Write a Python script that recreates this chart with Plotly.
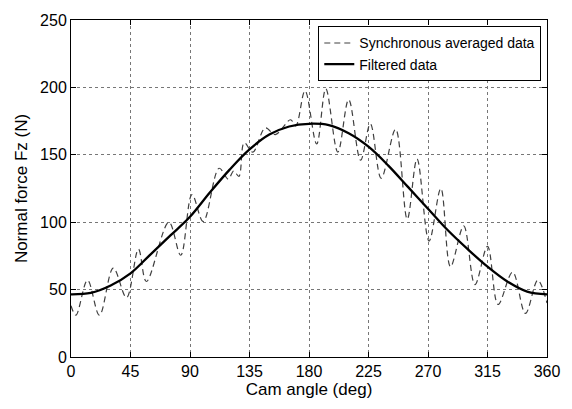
import plotly.graph_objects as go

# Synchronous averaged data (extrema)
sync_angle = [0, 3.7, 12.5, 21.5, 32, 42, 51, 57, 74, 83, 91.5, 100, 112, 119, 123, 127,
              131, 137.5, 147, 154.5, 166, 170, 177, 185.8, 192.7, 201.8, 210, 219,
              226.4, 234.6, 245.5, 254.3, 261.7, 270.8, 279.7, 287, 297, 305.5, 315,
              323, 334, 343.7, 353, 360]
sync_force = [38, 31, 57, 31, 66, 44, 80, 56, 100, 75.5, 120.5, 100.5, 140, 132, 138, 134,
              159, 152, 170, 165, 176, 171.5, 197.5, 158, 199, 152, 191, 146,
              173, 132.6, 169, 102.3, 147, 86, 125, 67, 97.2, 53.7, 82,
              39, 63, 32.3, 57, 40]

# Filtered data
filt_angle = [0, 15, 30, 45, 60, 75, 90, 105, 120, 135, 150, 165, 180, 195, 210, 225,
              240, 255, 270, 285, 300, 315, 330, 345, 360]
filt_force = [46.5, 47.5, 53, 62, 76, 90, 104, 122, 139, 154, 165, 171, 173, 172, 166, 156,
              142, 126, 110, 94, 80, 67, 56, 48.5, 46.5]

x_ticks = [0, 45, 90, 135, 180, 225, 270, 315, 360]
y_ticks = [0, 50, 100, 150, 200, 250]

font_family = "Liberation Sans, Arial, sans-serif"

fig = go.Figure()
fig.add_trace(go.Scatter(
    x=sync_angle, y=sync_force, mode="lines", name="Synchronous averaged data",
    line=dict(color="#404040", width=1.2, dash="6px,4px", shape="spline", smoothing=1.0),
))
fig.add_trace(go.Scatter(
    x=filt_angle, y=filt_force, mode="lines", name="Filtered data",
    line=dict(color="black", width=2.3, shape="spline", smoothing=1.0),
))

axis_common = dict(
    showline=True, linecolor="black", linewidth=1, mirror="ticks",
    ticks="inside", ticklen=5, tickcolor="black",
    showgrid=True, gridcolor="#777777", gridwidth=1, griddash="dot",
    zeroline=False, tickfont=dict(size=16, color="black", family=font_family),
    ticklabeloverflow="allow",
)

fig.update_xaxes(range=[0, 360], tickvals=x_ticks, ticktext=[str(v) for v in x_ticks],
                 title=dict(text="Cam angle (deg)", font=dict(size=17, color="black", family=font_family),
                            standoff=3),
                 **axis_common)
fig.update_yaxes(range=[0, 250], tickvals=y_ticks, ticktext=[str(v) for v in y_ticks],
                 title=dict(text="Normal force Fz (N)", font=dict(size=17, color="black", family=font_family),
                            standoff=8),
                 **axis_common)

fig.update_layout(
    width=572, height=409,
    margin=dict(l=71, r=14, t=14, b=52),
    paper_bgcolor="white", plot_bgcolor="white",
    font=dict(family=font_family, color="black"),
    showlegend=True,
    legend=dict(x=0.988, y=0.981, xanchor="right", yanchor="top",
                bgcolor="white", bordercolor="black", borderwidth=1,
                font=dict(size=14, color="black", family=font_family),
                tracegroupgap=0, itemwidth=30),
)

fig.write_html("out.html")
